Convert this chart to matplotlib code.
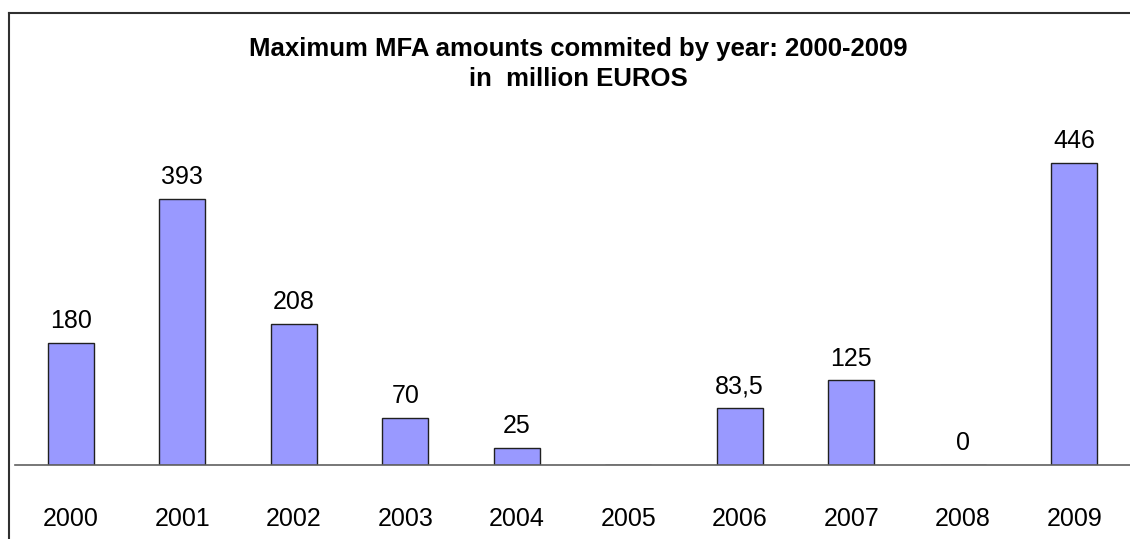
import matplotlib.pyplot as plt
from matplotlib.lines import Line2D

# Datos (millones de euros); 2005 sin valor
years = ['2000', '2001', '2002', '2003', '2004', '2005', '2006', '2007', '2008', '2009']
amounts = [180, 393, 208, 70, 25, None, 83.5, 125, 0, 446]
labels = ['180', '393', '208', '70', '25', '', '83,5', '125', '0', '446']

plt.rcParams['font.family'] = ['Liberation Sans', 'DejaVu Sans']

W, H = 1130, 539
fig = plt.figure(figsize=(W / 100, H / 100), dpi=100)

# Ejes: base en y=465 px, de x=15 a x=1130
ax_left, ax_right = 15, 1130
ax_bottom = 465
ax_top = 465 - 500 * (465 - 163) / 446
ax = fig.add_axes([ax_left / W, 1 - ax_bottom / H,
                   (ax_right - ax_left) / W, (ax_bottom - ax_top) / H])

x = list(range(len(years)))
vals = [v if v is not None else 0 for v in amounts]
ax.bar(x, vals, width=0.41, color='#9999FF', edgecolor='#202020', linewidth=1)

for i, (v, lab) in enumerate(zip(vals, labels)):
    if lab:
        ax.annotate(lab, (i, v), xytext=(0, 7), textcoords='offset points',
                    ha='center', va='bottom', fontsize=18)

ax.set_xlim(-0.5, 9.5)
ax.set_ylim(0, 500)
ax.set_yticks([])
ax.set_xticks(x)
ax.set_xticklabels(years, fontsize=18)
ax.tick_params(axis='x', length=0, pad=30)
for s in ['top', 'right', 'left']:
    ax.spines[s].set_visible(False)
ax.spines['bottom'].set_color('#606060')
ax.spines['bottom'].set_linewidth(1.2)

# Título
fig.text(578 / W, 1 - 49 / H, 'Maximum MFA amounts commited by year: 2000-2009',
         ha='center', va='center', fontsize=18.5, fontweight='bold')
fig.text(578 / W, 1 - 79 / H, 'in  million EUROS',
         ha='center', va='center', fontsize=18.5, fontweight='bold')

# Marco (solo izquierda y arriba visibles)
fig.add_artist(Line2D([9 / W, 9 / W], [0, 1 - 12.5 / H], color='#303030', lw=1.5,
                      transform=fig.transFigure))
fig.add_artist(Line2D([9 / W, 1], [1 - 12.5 / H, 1 - 12.5 / H], color='#303030', lw=1.5,
                      transform=fig.transFigure))

fig.savefig('out.png', dpi=100)
